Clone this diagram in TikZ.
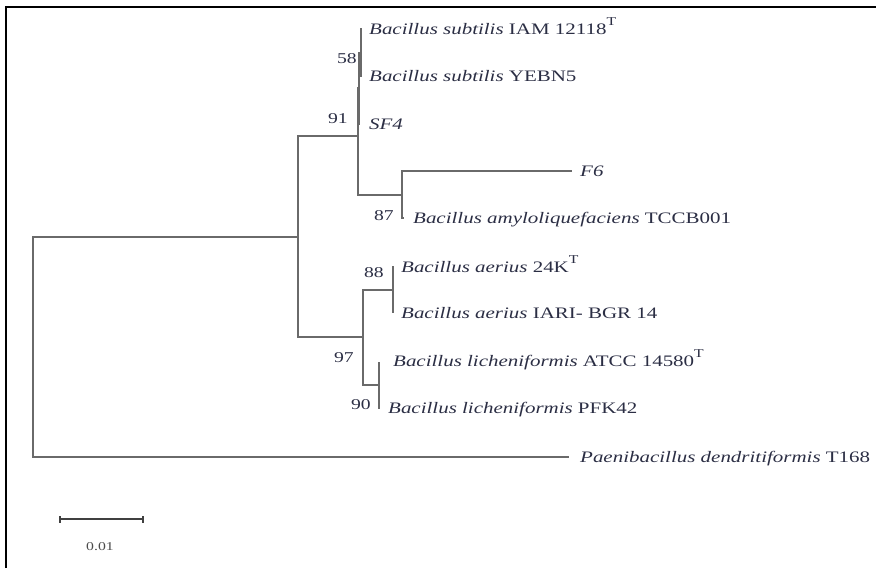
\documentclass[tikz,border=0pt]{standalone}
\usepackage{fontspec}
\setmainfont[FakeStretch=1.31]{Liberation Serif}
\definecolor{txt}{HTML}{2B2E44}
\definecolor{brc}{HTML}{6A6A6A}
\begin{document}
\begin{tikzpicture}[x=1pt,y=-1pt,
  br/.style={draw=brc,line width=1.5pt},
  leaf/.style={anchor=base west,inner sep=0pt,text=txt,font=\fontsize{16}{16}\selectfont},
  boot/.style={anchor=base east,inner sep=0pt,text=txt,font=\fontsize{15}{15}\selectfont},
  frm/.style={draw=black,line width=2.5pt}]
\useasboundingbox (0,0) rectangle (876,568);
% frame
\coordinate (f1) at (6,568); \coordinate (f2) at (6,7); \coordinate (f3) at (876,7);
\draw[frm] (f1) -- (f2) -- (f3);
% internal nodes
\coordinate (r) at (33,347);
\coordinate (u) at (298,237);
\coordinate (a) at (358,136);
\coordinate (n91) at (359,88);
\coordinate (n58) at (361,53);
\coordinate (nF) at (402,195);
\coordinate (l) at (363,337);
\coordinate (nA) at (393,290);
\coordinate (nL) at (379,385);
% tips
\coordinate (tIAM) at (362,29);
\coordinate (tYEB) at (362,76);
\coordinate (tSF4) at (360,124);
\coordinate (tF6) at (572,171);
\coordinate (tAmy) at (404,218);
\coordinate (t24K) at (394,267);
\coordinate (tIAR) at (394,312);
\coordinate (tATC) at (380,363);
\coordinate (tPFK) at (380,408);
\coordinate (tPae) at (569,457);
% branches
\draw[br] (r) |- (u);
\draw[br] (r) |- (tPae);
\draw[br] (u) |- (a);
\draw[br] (u) |- (l);
\draw[br] (a) |- (n91);
\draw[br] (a) |- (nF);
\draw[br] (n91) |- (n58);
\draw[br] (n91) |- (tSF4);
\draw[br] (n58) |- (tIAM);
\draw[br] (n58) |- (tYEB);
\draw[br] (nF) |- (tF6);
\draw[br] (nF) |- (tAmy);
\draw[br] (l) |- (nA);
\draw[br] (l) |- (nL);
\draw[br] (nA) |- (t24K);
\draw[br] (nA) |- (tIAR);
\draw[br] (nL) |- (tATC);
\draw[br] (nL) |- (tPFK);
% leaf labels
\node[leaf] (LIAM) at (369,34) {\textit{Bacillus subtilis} IAM 12118\raisebox{0.55em}{\fontsize{12}{12}\selectfont T}};
\node[leaf] (LYEB) at (369,81) {\textit{Bacillus subtilis} YEBN5};
\node[leaf] (LSF4) at (369,129) {\textit{SF4}};
\node[leaf] (LF6) at (580,176) {\textit{F6}};
\node[leaf] (LAmy) at (413,223) {\textit{Bacillus amyloliquefaciens} TCCB001};
\node[leaf] (L24K) at (401,272) {\textit{Bacillus aerius} 24K\raisebox{0.55em}{\fontsize{12}{12}\selectfont T}};
\node[leaf] (LIAR) at (401,318) {\textit{Bacillus aerius} IARI- BGR 14};
\node[leaf] (LATC) at (393,366) {\textit{Bacillus licheniformis} ATCC 14580\raisebox{0.55em}{\fontsize{12}{12}\selectfont T}};
\node[leaf] (LPFK) at (388,413) {\textit{Bacillus licheniformis} PFK42};
\node[leaf] (LPae) at (580,462) {\textit{Paenibacillus dendritiformis} T168};
% bootstrap values
\node[boot] (b58) at (357,63) {58};
\node[boot] (b91) at (348,123) {91};
\node[boot] (b87) at (394,220) {87};
\node[boot] (b88) at (384,277) {88};
\node[boot] (b97) at (354,362) {97};
\node[boot] (b90) at (371,409) {90};
% scale bar
\coordinate (s1) at (60,519); \coordinate (s2) at (143,519);
\draw[draw=black!75,line width=1.3pt] (s1) -- (s2);
\draw[draw=black!75,line width=1.3pt] ([yshift=-3.5pt]s1) -- ([yshift=3.5pt]s1);
\draw[draw=black!75,line width=1.3pt] ([yshift=-3.5pt]s2) -- ([yshift=3.5pt]s2);
\node[anchor=base,inner sep=0pt,text=black!70,font=\fontsize{12}{12}\selectfont] (sl) at (100,550) {0.01};
\end{tikzpicture}
\end{document}
